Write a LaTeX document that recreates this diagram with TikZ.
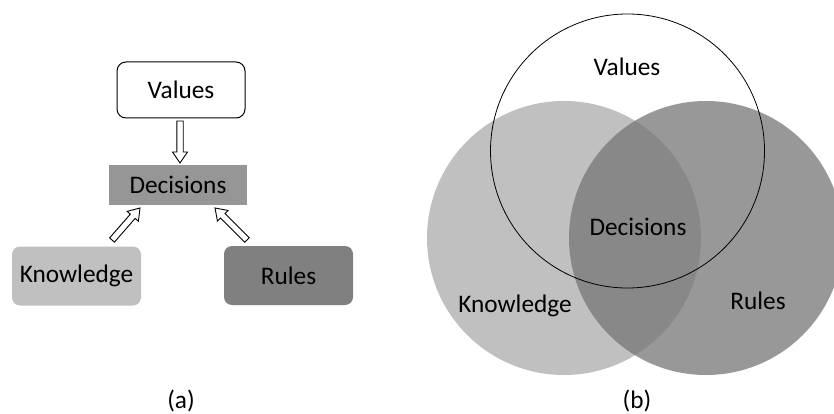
\documentclass[tikz,border=0pt]{standalone}
\usepackage{fontspec}
\setmainfont{Carlito}
\usetikzlibrary{calc}
\definecolor{knowgray}{RGB}{192,192,192}
\definecolor{decgray}{RGB}{150,150,150}
\definecolor{rulegray}{RGB}{128,128,128}
\definecolor{vennrule}{RGB}{118,118,118}
\newcommand\blockarrow[2]{%
  \coordinate (ba-h) at ($(#2)!11pt!(#1)$);
  \draw[blockarr] ($(#1)!3.2pt!90:(#2)$) -- ($(ba-h)!3.2pt!90:(#2)$) -- ($(ba-h)!7.5pt!90:(#2)$) -- (#2)
     -- ($(ba-h)!7.5pt!-90:(#2)$) -- ($(ba-h)!3.2pt!-90:(#2)$) -- ($(#1)!3.2pt!-90:(#2)$) -- cycle;
}
\tikzset{
  lbl/.style={font=\fontsize{25.3}{30}\selectfont, text=black, inner sep=0pt},
  box/.style={lbl, minimum width=129pt, minimum height=59pt, rounded corners=8pt},
  blockarr/.style={draw=black, fill=white, line width=0.9pt, line join=miter},
  venn/.style={lbl},
}
\begin{document}
\begin{tikzpicture}[x=1pt,y=-1pt]
\useasboundingbox (0,0) rectangle (834,414);
% ---------- (a) ----------
\node[box, draw=black, line width=1pt, fill=white, minimum width=128pt, minimum height=56pt, rounded corners=9pt] (values) at (181,90) {Values};
\node[lbl, fill=decgray, minimum width=138pt, minimum height=40pt] (decisions) at (178,185) {Decisions};
\node[box, fill=knowgray] (knowledge) at (76.5,276) {Knowledge};
\node[box, fill=rulegray] (rules) at (288.5,275.5) {Rules};
\coordinate (va) at (180,121);
\coordinate (vb) at (180,163);
\coordinate (ka) at (112,240);
\coordinate (kb) at (140,208);
\coordinate (ra) at (247,240);
\coordinate (rb) at (215,208);
\blockarrow{va}{vb}
\blockarrow{ka}{kb}
\blockarrow{ra}{rb}
\node[lbl] (la) at (181,401) {(a)};
% ---------- (b) ----------
\begin{scope}
\clip (0,0) rectangle (834,414);
\fill[knowgray] (564,238) circle (137);
\fill[vennrule, fill opacity=0.75] (706,238) circle (137);
\draw[black, line width=0.8pt] (627.5,151) circle (137);
\end{scope}
\node[venn] (vv) at (627,67) {Values};
\node[venn] (vd) at (638,227) {Decisions};
\node[venn] (vk) at (515,306) {Knowledge};
\node[venn] (vr) at (758,301) {Rules};
\node[lbl] (lb) at (637,401) {(b)};
\end{tikzpicture}
\end{document}
